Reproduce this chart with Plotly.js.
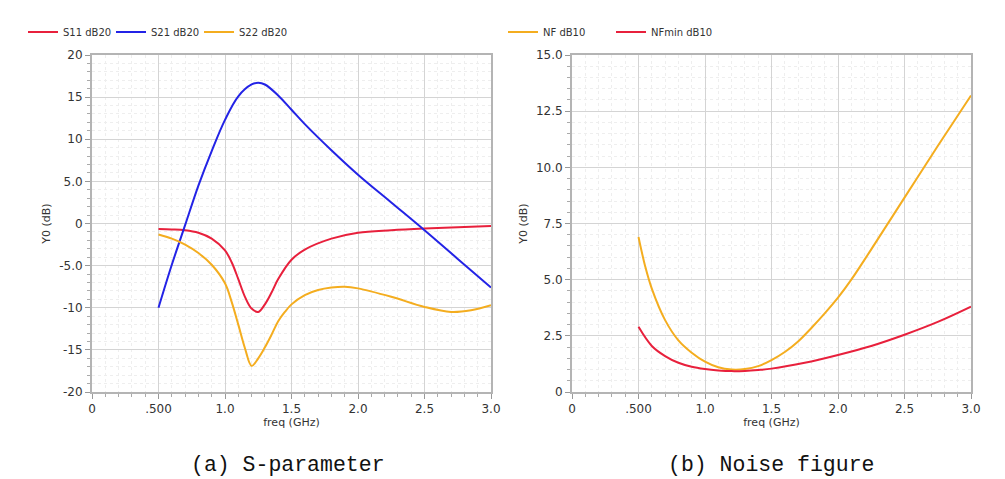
<!DOCTYPE html>
<html>
<head>
<meta charset="utf-8">
<script src="https://cdn.plot.ly/plotly-3.0.1.min.js"></script>
<style>html,body{margin:0;padding:0;background:#fff;}#chart{width:1005px;height:479px;}</style>
</head>
<body>
<div id="chart"></div>
<script>
// ---- Data ----
const s11Freq = [0.5, 0.6, 0.7, 0.8, 0.9, 1.0, 1.05, 1.1, 1.15, 1.2, 1.25, 1.3, 1.35, 1.4, 1.5, 1.6, 1.8, 2.0, 2.25, 2.5, 2.75, 3.0];
const s11Db   = [-0.65, -0.7, -0.8, -1.1, -1.8, -3.2, -4.6, -6.6, -8.7, -10.1, -10.5, -9.6, -8.2, -6.6, -4.3, -3.1, -1.8, -1.1, -0.8, -0.6, -0.45, -0.3];

const s21Freq = [0.5, 0.6, 0.7, 0.8, 0.9, 1.0, 1.1, 1.2, 1.25, 1.3, 1.4, 1.5, 1.6, 1.8, 2.0, 2.25, 2.5, 2.75, 3.0];
const s21Db   = [-10.0, -4.9, -0.2, 4.5, 8.6, 12.3, 15.1, 16.5, 16.7, 16.5, 15.2, 13.5, 11.8, 8.7, 5.8, 2.5, -0.8, -4.2, -7.6];

const s22Freq = [0.5, 0.6, 0.7, 0.8, 0.9, 1.0, 1.05, 1.1, 1.15, 1.2, 1.25, 1.3, 1.35, 1.4, 1.45, 1.5, 1.6, 1.7, 1.8, 1.9, 2.0, 2.25, 2.5, 2.7, 2.85, 3.0];
const s22Db   = [-1.3, -1.8, -2.5, -3.5, -4.9, -7.1, -9.3, -12.0, -14.8, -16.9, -16.0, -14.7, -13.2, -11.6, -10.5, -9.6, -8.5, -7.9, -7.6, -7.5, -7.7, -8.7, -9.9, -10.5, -10.3, -9.7];

const nfFreq  = [0.5, 0.55, 0.6, 0.7, 0.8, 0.9, 1.0, 1.1, 1.2, 1.3, 1.4, 1.5, 1.6, 1.7, 1.8, 1.9, 2.0, 2.1, 2.25, 2.5, 2.75, 3.0];
const nfDb    = [6.9, 5.6, 4.6, 3.2, 2.3, 1.75, 1.35, 1.1, 1.0, 1.02, 1.15, 1.42, 1.78, 2.25, 2.85, 3.5, 4.2, 5.0, 6.35, 8.65, 10.95, 13.2];

const nfminFreq = [0.5, 0.6, 0.7, 0.8, 0.9, 1.0, 1.1, 1.2, 1.3, 1.4, 1.5, 1.75, 2.0, 2.25, 2.5, 2.75, 3.0];
const nfminDb   = [2.9, 2.05, 1.6, 1.3, 1.12, 1.02, 0.96, 0.93, 0.94, 0.98, 1.04, 1.3, 1.65, 2.05, 2.55, 3.12, 3.8];

const freqTickVals = [0, 0.5, 1.0, 1.5, 2.0, 2.5, 3.0];
const freqTickText = ['0', '.500', '1.0', '1.5', '2.0', '2.5', '3.0'];
const sTickVals = [-20, -15, -10, -5, 0, 5, 10, 15, 20];
const sTickText = ['-20', '-15', '-10', '-5.0', '0', '5.0', '10', '15', '20'];
const nTickVals = [0, 2.5, 5, 7.5, 10, 12.5, 15];
const nTickText = ['0', '2.5', '5.0', '7.5', '10.0', '12.5', '15.0'];

const captionA = '(a) S-parameter';
const captionB = '(b) Noise figure';

// ---- Styles ----
const RED = '#e8203c', BLUE = '#2323e6', ORANGE = '#f4ad1f';
const tickFont = {family: 'DejaVu Sans, sans-serif', size: 12, color: '#333'};
const titleFont = {family: 'DejaVu Sans, sans-serif', size: 11, color: '#333'};

function xAxis(domain, anchor) {
  return {
    domain: domain, anchor: anchor, range: [0, 3.0], tickmode: 'array',
    tickvals: freqTickVals, ticktext: freqTickText, tickfont: tickFont,
    showline: true, linecolor: '#b4b4b4', linewidth: 2, mirror: true,
    ticks: 'outside', ticklen: 5, tickcolor: '#999', zeroline: false,
    showgrid: true, gridcolor: '#d4d4d4', gridwidth: 1,
    minor: {dtick: 0.1, tick0: 0, ticks: 'outside', ticklen: 3, tickcolor: '#aaa', showgrid: true, gridcolor: '#eeeeee', griddash: 'dot'},
    title: {text: 'freq (GHz)', font: titleFont, standoff: 1}
  };
}
function yAxis(range, vals, text, minorStep, anchor) {
  return {
    anchor: anchor, domain: [0, 1], range: range, tickmode: 'array',
    tickvals: vals, ticktext: text, tickfont: tickFont,
    showline: true, linecolor: '#b4b4b4', linewidth: 2, mirror: true,
    ticks: 'outside', ticklen: 5, tickcolor: '#999', zeroline: false,
    showgrid: true, gridcolor: '#d4d4d4', gridwidth: 1,
    minor: {dtick: minorStep, tick0: 0, ticks: 'outside', ticklen: 3, tickcolor: '#aaa', showgrid: true, gridcolor: '#eeeeee', griddash: 'dot'},
    title: {text: 'Y0 (dB)', font: titleFont, standoff: 6}
  };
}

const lineOpt = (c) => ({color: c, width: 2, shape: 'spline', smoothing: 1});

const traces = [
  {x: s11Freq, y: s11Db, name: 'S11 dB20', mode: 'lines', line: lineOpt(RED), xaxis: 'x', yaxis: 'y', legend: 'legend'},
  {x: s21Freq, y: s21Db, name: 'S21 dB20', mode: 'lines', line: lineOpt(BLUE), xaxis: 'x', yaxis: 'y', legend: 'legend'},
  {x: s22Freq, y: s22Db, name: 'S22 dB20', mode: 'lines', line: lineOpt(ORANGE), xaxis: 'x', yaxis: 'y', legend: 'legend'},
  {x: nfFreq, y: nfDb, name: 'NF dB10', mode: 'lines', line: lineOpt(ORANGE), xaxis: 'x2', yaxis: 'y2', legend: 'legend2'},
  {x: nfminFreq, y: nfminDb, name: 'NFmin dB10', mode: 'lines', line: lineOpt(RED), xaxis: 'x2', yaxis: 'y2', legend: 'legend2'}
];

const legendFont = {family: 'DejaVu Sans, sans-serif', size: 10, color: '#333'};
const layout = {
  width: 1005, height: 479,
  margin: {l: 0, r: 0, t: 55, b: 87},
  paper_bgcolor: '#fff', plot_bgcolor: '#fff',
  showlegend: true,
  xaxis: xAxis([92/1005, 491/1005], 'y'),
  yaxis: yAxis([-20, 20], sTickVals, sTickText, 1, 'x'),
  xaxis2: xAxis([572/1005, 971/1005], 'y2'),
  yaxis2: yAxis([0, 15], nTickVals, nTickText, 0.5, 'x2'),
  legend: {orientation: 'h', xref: 'container', yref: 'container', x: 23/1005, y: 1 - 32/479, yanchor: 'middle', xanchor: 'left',
           font: legendFont, itemwidth: 30, entrywidth: 43, entrywidthmode: 'pixels', bgcolor: 'rgba(0,0,0,0)', traceorder: 'normal'},
  legend2: {orientation: 'h', xref: 'container', yref: 'container', x: 503/1005, y: 1 - 32/479, yanchor: 'middle', xanchor: 'left',
           font: legendFont, itemwidth: 30, entrywidth: 63, entrywidthmode: 'pixels', bgcolor: 'rgba(0,0,0,0)', traceorder: 'normal'},
  annotations: [
    {text: captionA, xref: 'paper', yref: 'paper', x: 288/1005, y: -(465-392)/337, xanchor: 'center', yanchor: 'middle', showarrow: false,
     font: {family: 'Liberation Mono, monospace', size: 21.5, color: '#111'}},
    {text: captionB, xref: 'paper', yref: 'paper', x: 771/1005, y: -(465-392)/337, xanchor: 'center', yanchor: 'middle', showarrow: false,
     font: {family: 'Liberation Mono, monospace', size: 21.5, color: '#111'}}
  ]
};

Plotly.newPlot('chart', traces, layout, {displayModeBar: false, staticPlot: true});
</script>
</body>
</html>
